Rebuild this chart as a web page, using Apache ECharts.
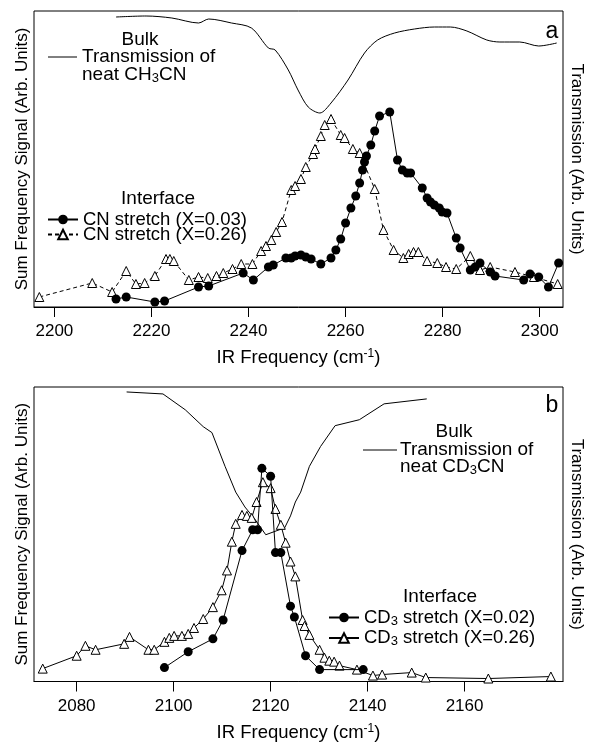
<!DOCTYPE html>
<html>
<head>
<meta charset="utf-8">
<script src="https://cdn.jsdelivr.net/npm/echarts@6/dist/echarts.min.js"></script>
<style>
  html, body { margin: 0; padding: 0; background: #fff; }
  #chart { width: 593px; height: 743px; }
</style>
</head>
<body>
<div id="chart"></div>
<script>
// Panel a: CH3CN, CN stretch region
const ticksA = [2200, 2220, 2240, 2260, 2280, 2300];
const bulkA_x = [2212.7, 2218.9, 2224.2, 2229.7, 2231.8, 2236.5, 2240.6, 2244.1, 2245.5, 2248.2, 2250.2, 2252.3, 2254.7, 2257.0, 2260.5, 2263.9, 2266.6, 2270.1, 2274.2, 2278.3, 2281.6, 2285.0, 2289.1, 2291.8, 2295.9, 2299.8, 2303.5];
const bulkA_y = [290, 291, 289, 284, 288, 284, 279, 259, 257, 237, 217, 200, 194, 204, 227, 254, 267, 274, 278, 280, 280, 276, 267, 265, 265, 261, 264];
const cn003_x = [2212.7, 2214.8, 2220.7, 2222.7, 2229.7, 2231.8, 2238.9, 2241.0, 2244.1, 2245.1, 2247.7, 2248.8, 2249.6, 2250.8, 2251.8, 2252.9, 2254.9, 2257.0, 2258.0, 2259.0, 2260.0, 2261.1, 2262.1, 2262.9, 2263.5, 2263.9, 2264.3, 2265.2, 2266.0, 2267.0, 2269.1, 2270.7, 2271.7, 2272.7, 2273.4, 2275.8, 2276.8, 2277.5, 2278.3, 2279.3, 2279.9, 2280.9, 2282.8, 2283.6, 2285.7, 2286.7, 2287.7, 2289.8, 2290.8, 2296.7, 2298.0, 2299.8, 2301.8, 2303.9];
const cn003_y = [8, 10, 5, 6, 20, 21, 34, 27, 40, 42, 49, 49, 51, 52, 50, 48, 43, 49, 57, 68, 84, 99, 111, 124, 137, 145, 151, 162, 176, 191, 195, 147, 137, 134, 134, 119, 109, 105, 102, 99, 95, 94, 69, 59, 37, 40, 44, 35, 31, 27, 33, 30, 20, 44];
const cn026_x = [2196.9, 2207.8, 2211.9, 2214.8, 2216.8, 2218.6, 2220.7, 2223.0, 2223.8, 2224.6, 2227.7, 2229.7, 2231.6, 2233.4, 2234.8, 2236.7, 2238.5, 2240.8, 2242.6, 2243.6, 2244.7, 2245.7, 2246.9, 2248.8, 2249.6, 2250.8, 2251.8, 2253.3, 2253.7, 2254.9, 2255.7, 2257.0, 2259.0, 2259.8, 2261.5, 2262.9, 2266.0, 2267.8, 2269.9, 2271.9, 2273.0, 2274.0, 2275.0, 2276.8, 2278.9, 2280.7, 2282.8, 2285.7, 2287.7, 2289.8, 2294.9, 2298.8, 2303.7];
const cn026_y = [10, 24, 15, 36, 23, 24, 31, 48, 48, 46, 27, 30, 29, 31, 34, 38, 43, 43, 56, 61, 67, 75, 85, 117, 121, 128, 140, 153, 158, 171, 182, 188, 172, 169, 158, 154, 118, 77, 57, 49, 53, 55, 55, 46, 44, 40, 38, 51, 37, 40, 35, 30, 23];

// Panel b: CD3CN, CD3 stretch region
const ticksB = [2080, 2100, 2120, 2140, 2160];
const bulkB_x = [2090.3, 2097.8, 2102.4, 2106.1, 2107.9, 2110.6, 2112.8, 2114.7, 2116.7, 2119.0, 2122.9, 2124.1, 2125.1, 2126.2, 2128.0, 2130.3, 2133.3, 2138.3, 2143.4, 2152.2];
const bulkB_y = [292, 290, 274, 257, 251, 217, 191, 176, 164, 148, 155, 167, 181, 191, 217, 237, 258, 264, 280, 285];
const cd002_x = [2098.1, 2103.0, 2108.1, 2110.2, 2114.1, 2116.3, 2117.3, 2118.2, 2120.0, 2121.0, 2122.1, 2124.1, 2124.9, 2127.2, 2130.1, 2139.1];
const cd002_y = [14, 30, 43, 62, 132, 153, 153, 215, 207, 130, 130, 76, 65, 26, 12, 12];
const cd026_x = [2073.0, 2080.0, 2081.8, 2083.9, 2089.8, 2090.9, 2094.8, 2096.0, 2098.1, 2099.1, 2100.1, 2101.7, 2103.0, 2104.2, 2106.1, 2108.1, 2109.9, 2111.0, 2112.0, 2112.8, 2114.1, 2115.1, 2116.1, 2117.1, 2118.4, 2120.0, 2121.0, 2122.1, 2123.1, 2124.1, 2125.1, 2126.6, 2127.0, 2128.0, 2130.1, 2131.1, 2132.1, 2133.1, 2134.2, 2137.8, 2141.1, 2143.0, 2149.1, 2152.0, 2164.9, 2177.8];
const cd026_y = [13, 26, 36, 32, 38, 45, 32, 32, 40, 44, 46, 46, 48, 54, 63, 75, 92, 112, 141, 159, 168, 167, 165, 181, 201, 195, 174, 158, 140, 121, 106, 62, 56, 47, 32, 24, 21, 20, 16, 12, 6, 7, 9, 4, 3, 5];

const FONT = 'Liberation Sans, Arial, Helvetica, sans-serif';

function zip(xs, ys) {
  return xs.map((x, i) => [x, ys[i]]);
}

const chart = echarts.init(document.getElementById('chart'));

// rich styles for sub/superscripts, scaled to the base font size
function richFor(size) {
  return {
    n: { fontSize: size, fontFamily: FONT, color: '#000' },
    s: { fontSize: Math.round(size * 0.7), fontFamily: FONT, color: '#000', padding: [7, 0, 0, 0] },
    sup: { fontSize: Math.round(size * 0.65), fontFamily: FONT, color: '#000', padding: [0, 0, 8, 0] }
  };
}

function xAxisFor(grid, min, max, ticks) {
  return {
    type: 'value',
    gridIndex: grid,
    min: min,
    max: max,
    axisLine: { show: true, lineStyle: { color: '#000', width: 1 } },
    axisTick: { show: true, length: 10, customValues: ticks, lineStyle: { color: '#000' } },
    axisLabel: {
      customValues: ticks,
      color: '#000',
      fontSize: 17,
      fontFamily: FONT,
      margin: 16,
      formatter: v => String(v)
    },
    splitLine: { show: false },
    name: '{n|IR Frequency (cm}{sup|-1}{n|)}',
    nameLocation: 'middle',
    nameGap: 41,
    nameTextStyle: { rich: richFor(18.5) }
  };
}

function yAxisFor(grid, pos, max, name) {
  return {
    type: 'value',
    gridIndex: grid,
    position: pos,
    min: 0,
    max: max,
    axisLine: { show: false },
    axisTick: { show: false },
    axisLabel: { show: false },
    splitLine: { show: false },
    name: name,
    nameLocation: 'middle',
    nameRotate: pos === 'left' ? 90 : -90,
    nameGap: pos === 'left' ? 3 : 5,
    nameTextStyle: { color: '#000', fontSize: 17, fontFamily: FONT }
  };
}

function bulkSeries(x, y, yIdx, xIdx, smooth) {
  return {
    type: 'line',
    xAxisIndex: xIdx,
    yAxisIndex: yIdx,
    data: zip(x, y),
    symbol: 'none',
    smooth: smooth,
    lineStyle: { color: '#000', width: 1 },
    z: 2
  };
}

function circleSeries(name, x, y, xIdx, yIdx) {
  return {
    name: name,
    type: 'line',
    xAxisIndex: xIdx,
    yAxisIndex: yIdx,
    data: zip(x, y),
    symbol: 'circle',
    symbolSize: 9,
    showAllSymbol: true,
    lineStyle: { color: '#000', width: 1 },
    itemStyle: { color: '#000' },
    z: 4
  };
}

function triangleSeries(name, x, y, xIdx, yIdx, dashed) {
  return {
    name: name,
    type: 'line',
    xAxisIndex: xIdx,
    yAxisIndex: yIdx,
    data: zip(x, y),
    symbol: 'triangle',
    symbolSize: 9,
    showAllSymbol: true,
    lineStyle: { color: '#000', width: 1, type: dashed ? [4, 3] : 'solid' },
    itemStyle: { color: '#fff', borderColor: '#000', borderWidth: 1 },
    z: 3
  };
}

function label(x, y, text, size, align) {
  return {
    type: 'text',
    x: x,
    y: y,
    style: {
      text: text,
      fontSize: size || 19,
      fontFamily: FONT,
      fill: '#000',
      align: align || 'left',
      verticalAlign: 'middle',
      textAlign: align || 'left',
      textVerticalAlign: 'middle',
      rich: richFor(size || 19)
    }
  };
}

function line(x1, x2, y) {
  return {
    type: 'line',
    shape: { x1: x1, y1: y, x2: x2, y2: y },
    style: { stroke: '#000', lineWidth: 1 }
  };
}

const option = {
  animation: false,
  backgroundColor: '#fff',
  grid: [
    { left: 34, top: 11, width: 533, height: 296, show: true, borderColor: '#000', borderWidth: 1, backgroundColor: 'transparent' },
    { left: 34, top: 387, width: 533, height: 297, show: true, borderColor: '#000', borderWidth: 1, backgroundColor: 'transparent' }
  ],
  xAxis: [
    xAxisFor(0, 2195.8, 2304.8, ticksA),
    xAxisFor(1, 2071.2, 2180.3, ticksB)
  ],
  yAxis: [
    yAxisFor(0, 'left', 296, 'Sum Frequency Signal (Arb. Units)'),
    yAxisFor(0, 'right', 296, 'Transmission (Arb. Units)'),
    yAxisFor(1, 'left', 297, 'Sum Frequency Signal (Arb. Units)'),
    yAxisFor(1, 'right', 297, 'Transmission (Arb. Units)')
  ],
  legend: [
    {
      data: ['CN stretch (X=0.03)', 'CN stretch (X=0.26)'],
      orient: 'vertical',
      left: 47,
      top: 210,
      padding: 0,
      itemWidth: 30,
      itemHeight: 12,
      itemGap: -4,
      selectedMode: false,
      textStyle: { color: '#000', fontSize: 18.5, lineHeight: 17, fontFamily: FONT }
    },
    {
      data: ['CD3 stretch (X=0.02)', 'CD3 stretch (X=0.26)'],
      orient: 'vertical',
      left: 328,
      top: 608,
      padding: 0,
      itemWidth: 30,
      itemHeight: 12,
      itemGap: 1,
      selectedMode: false,
      formatter: function (name) {
        return '{n|CD}{s|3}{n|' + name.slice(3) + '}';
      },
      textStyle: { color: '#000', fontSize: 18.5, lineHeight: 18, fontFamily: FONT, rich: richFor(18.5) }
    }
  ],
  graphic: [
    label(140, 40, 'Bulk', 19, 'center'),
    line(48, 77, 57),
    label(82, 57, 'Transmission of'),
    label(82, 75, '{n|neat CH}{s|3}{n|CN}'),
    label(552, 32, 'a', 23, 'center'),
    label(158, 199, 'Interface', 19, 'center'),
    label(454, 432, 'Bulk', 19, 'center'),
    line(363, 397, 450),
    label(400, 450, 'Transmission of'),
    label(400, 467, '{n|neat CD}{s|3}{n|CN}'),
    label(552, 406, 'b', 23, 'center'),
    label(440, 597, 'Interface', 19, 'center')
  ],
  series: [
    bulkSeries(bulkA_x, bulkA_y, 1, 0, 0.3),
    triangleSeries('CN stretch (X=0.26)', cn026_x, cn026_y, 0, 0, true),
    circleSeries('CN stretch (X=0.03)', cn003_x, cn003_y, 0, 0),
    bulkSeries(bulkB_x, bulkB_y, 3, 1, false),
    triangleSeries('CD3 stretch (X=0.26)', cd026_x, cd026_y, 1, 2, false),
    circleSeries('CD3 stretch (X=0.02)', cd002_x, cd002_y, 1, 2)
  ]
};

chart.setOption(option);
</script>
</body>
</html>
